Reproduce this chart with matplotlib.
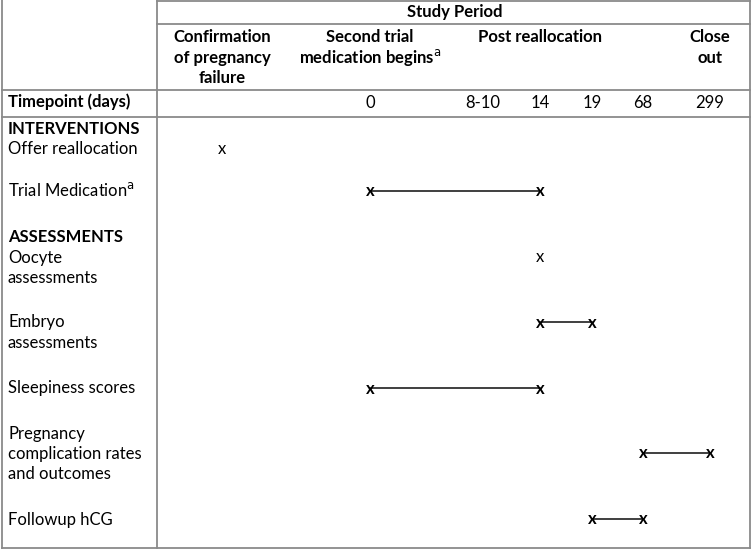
import matplotlib
matplotlib.use("Agg")
import matplotlib.pyplot as plt

# ---------------- data ----------------
period_title = "Study Period"
period_headers = [["Confirmation", "of pregnancy", "failure"],
                  ["Second trial", "medication begins$^{\\mathrm{a}}$"],
                  ["Post reallocation"],
                  ["Close", "out"]]
timepoint_header = "Timepoint (days)"
timepoints = ["C", "0", "8-10", "14", "19", "68", "299"]
timepoint_labels = ["", "0", "8-10", "14", "19", "68", "299"]

sections = ["INTERVENTIONS", "ASSESSMENTS"]
activities = [["Offer reallocation"], ["Trial Medication$^{\\mathrm{a}}$"],
              ["Oocyte", "assessments"], ["Embryo", "assessments"],
              ["Sleepiness scores"],
              ["Pregnancy", "complication rates", "and outcomes"],
              ["Followup hCG"]]
act_start = ["C", "0", "14", "14", "0", "68", "19"]
act_end = ["C", "14", "14", "19", "14", "299", "68"]

# ---------------- layout (pixels) ----------------
W, H = 753, 552
col_x = {"C": 222, "0": 370, "8-10": 483, "14": 540, "19": 592, "68": 643, "299": 710}
header_x = [222, 370, 540, 710]
act_y = [148, 191, 257, 322, 388, 453, 519]
label_y = [148, 191, 257, 322, 388, 433, 519]
section_y = [128, 237]
LINE = 20.3
BASE = 5.5  # center -> baseline offset

fig = plt.figure(figsize=(W / 100, H / 100), dpi=100)
ax = fig.add_axes([0, 0, 1, 1])
ax.set_xlim(0, W)
ax.set_ylim(H, 0)
ax.axis("off")

FONT = "Lato"
FS = 12.0
border = "#8a8a8a"
lw = 1.3


def txt(x, yc, s, ha="left", bold=False):
    ax.text(x, yc + BASE, s, ha=ha, va="baseline", fontsize=FS,
            fontweight="bold" if bold else "normal", family=FONT)


# table borders
ax.plot([157, 750], [1, 1], color=border, lw=lw)
ax.plot([2, 2], [0, 548], color=border, lw=lw)
ax.plot([750, 750], [1, 548], color=border, lw=lw)
ax.plot([2, 750], [548, 548], color=border, lw=lw)
ax.plot([157, 157], [0, 548], color=border, lw=lw)
ax.plot([157, 750], [24, 24], color=border, lw=lw)
ax.plot([2, 750], [90, 90], color=border, lw=lw)
ax.plot([2, 750], [117, 117], color=border, lw=lw)

# header texts
txt(455, 12, period_title, ha="center", bold=True)
for hx, lines in zip(header_x, period_headers):
    for i, ln in enumerate(lines):
        txt(hx, 37 + i * LINE, ln, ha="center", bold=True)

txt(8, 102, timepoint_header, bold=True)
for tp, tl in zip(timepoints, timepoint_labels):
    if tl:
        txt(col_x[tp], 102, tl, ha="center")

# sections
for s, sy in zip(sections, section_y):
    txt(8, sy, s, bold=True)

# activities
for lines, ly, ay, s, e in zip(activities, label_y, act_y, act_start, act_end):
    for i, ln in enumerate(lines):
        txt(8, ly + i * LINE, ln)
    xs = [col_x[s], col_x[e]]
    if s == e:
        txt(xs[0], ay, "x", ha="center")
    else:
        ax.plot(xs, [ay, ay], color="#303030", lw=1.3)
        for x in xs:
            txt(x, ay, "x", ha="center", bold=True)

fig.savefig("out.png", dpi=100)
